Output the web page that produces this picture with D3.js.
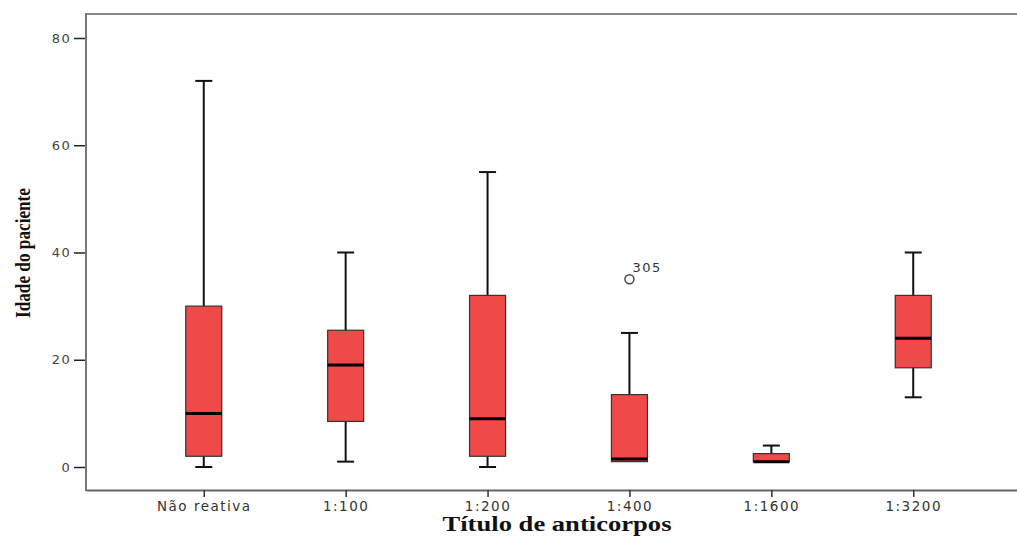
<!DOCTYPE html>
<html>
<head>
<meta charset="utf-8">
<script src="https://cdn.jsdelivr.net/npm/d3@7"></script>
<style>
  body { margin: 0; background: #fff; }
  svg { display: block; }
</style>
</head>
<body>
<svg id="chart" width="1017" height="537"></svg>
<script>
// data
var categories = ['Não reativa', '1:100', '1:200', '1:400', '1:1600', '1:3200'];
var whiskerLow = [0, 1, 0, 1, 1, 13];
var q1 = [2, 8.5, 2, 1, 1, 18.5];
var median = [10, 19, 9, 1.5, 1, 24];
var q3 = [30, 25.5, 32, 13.5, 2.5, 32];
var whiskerHigh = [72, 40, 55, 25, 4, 40];
var outliers = [{ cat: '1:400', value: 35, label: '305' }];
var yTicks = [0, 20, 40, 60, 80];

var svg = d3.select('#chart');

var frameLeft = 86, frameTop = 14, frameBottom = 490, frameRight = 1031;

var x = d3.scalePoint()
  .domain(categories)
  .range([frameLeft, frameRight])
  .padding(0.83);

var y = d3.scaleLinear().domain([0, 80]).range([467, 38]);

var boxWidth = 36;
var capWidth = 17;

var boxes = categories.map(function (c, i) {
  return { cat: c, lo: whiskerLow[i], q1: q1[i], med: median[i], q3: q3[i], hi: whiskerHigh[i] };
});

// frame
svg.append('line')
  .attr('x1', frameLeft).attr('x2', frameRight)
  .attr('y1', frameTop).attr('y2', frameTop)
  .attr('stroke', '#888').attr('stroke-width', 2);

// y axis
var yAxis = svg.append('g')
  .attr('transform', 'translate(' + frameLeft + ',0)')
  .call(d3.axisLeft(y).tickValues(yTicks).tickSize(12).tickPadding(3));
yAxis.select('.domain').remove();
yAxis.selectAll('.tick line').attr('stroke', '#222').attr('stroke-width', 1.5);
yAxis.selectAll('.tick text')
  .attr('fill', '#444')
  .style('font-family', 'DejaVu Sans, sans-serif')
  .style('font-size', '13px')
  .style('letter-spacing', '1.3px');

svg.append('line')
  .attr('x1', frameLeft).attr('x2', frameLeft)
  .attr('y1', frameTop - 1).attr('y2', frameBottom + 1)
  .attr('stroke', '#777').attr('stroke-width', 2);

// x axis
var xAxis = svg.append('g')
  .attr('transform', 'translate(0,' + frameBottom + ')')
  .call(d3.axisBottom(x).tickSize(7).tickPadding(4).tickSizeOuter(0));
xAxis.select('.domain').attr('stroke', '#666').attr('stroke-width', 2);
xAxis.selectAll('.tick line').attr('stroke', '#333').attr('stroke-width', 1.5);
xAxis.selectAll('.tick text')
  .attr('fill', '#333')
  .style('font-family', 'DejaVu Sans, sans-serif')
  .style('font-size', '13.5px')
  .style('letter-spacing', '1.5px');

// whiskers
var g = svg.append('g');

g.selectAll('.stem')
  .data(boxes)
  .enter().append('line')
  .attr('class', 'stem')
  .attr('x1', function (d) { return x(d.cat); })
  .attr('x2', function (d) { return x(d.cat); })
  .attr('y1', function (d) { return y(d.lo); })
  .attr('y2', function (d) { return y(d.hi); })
  .attr('stroke', '#111').attr('stroke-width', 2);

['lo', 'hi'].forEach(function (k) {
  g.selectAll('.cap-' + k)
    .data(boxes.filter(function (d) { return k === 'lo' ? d.lo < d.q1 : d.hi > d.q3; }))
    .enter().append('line')
    .attr('x1', function (d) { return x(d.cat) - capWidth / 2; })
    .attr('x2', function (d) { return x(d.cat) + capWidth / 2; })
    .attr('y1', function (d) { return y(d[k]); })
    .attr('y2', function (d) { return y(d[k]); })
    .attr('stroke', '#111').attr('stroke-width', 2);
});

// boxes
g.selectAll('.box')
  .data(boxes)
  .enter().append('rect')
  .attr('class', 'box')
  .attr('x', function (d) { return x(d.cat) - boxWidth / 2; })
  .attr('width', boxWidth)
  .attr('y', function (d) { return y(d.q3); })
  .attr('height', function (d) { return y(d.q1) - y(d.q3); })
  .attr('fill', '#f04a48')
  .attr('stroke', '#333').attr('stroke-width', 1.2);

g.selectAll('.med')
  .data(boxes)
  .enter().append('line')
  .attr('class', 'med')
  .attr('x1', function (d) { return x(d.cat) - boxWidth / 2; })
  .attr('x2', function (d) { return x(d.cat) + boxWidth / 2; })
  .attr('y1', function (d) { return y(d.med); })
  .attr('y2', function (d) { return y(d.med); })
  .attr('stroke', '#000').attr('stroke-width', 3);

// outliers
g.selectAll('.out')
  .data(outliers)
  .enter().append('circle')
  .attr('cx', function (d) { return x(d.cat); })
  .attr('cy', function (d) { return y(d.value); })
  .attr('r', 4.5)
  .attr('fill', 'none')
  .attr('stroke', '#444').attr('stroke-width', 1.5);

g.selectAll('.outlab')
  .data(outliers)
  .enter().append('text')
  .attr('x', function (d) { return x(d.cat) + 3; })
  .attr('y', function (d) { return y(d.value) - 7; })
  .text(function (d) { return d.label; })
  .attr('fill', '#333')
  .style('font-family', 'DejaVu Sans, sans-serif')
  .style('font-size', '13px')
  .style('letter-spacing', '1.5px');

// axis titles
svg.append('text')
  .attr('x', 557).attr('y', 531)
  .attr('text-anchor', 'middle')
  .attr('textLength', 229).attr('lengthAdjust', 'spacingAndGlyphs')
  .style('font-family', 'Liberation Serif, serif')
  .style('font-weight', 'bold')
  .style('font-size', '20px')
  .attr('fill', '#111')
  .text('Título de anticorpos');

svg.append('text')
  .attr('transform', 'translate(30,253) rotate(-90)')
  .attr('text-anchor', 'middle')
  .attr('textLength', 130).attr('lengthAdjust', 'spacingAndGlyphs')
  .style('font-family', 'Liberation Serif, serif')
  .style('font-weight', 'bold')
  .style('font-size', '22px')
  .attr('fill', '#111')
  .text('Idade do paciente');
</script>
</body>
</html>
